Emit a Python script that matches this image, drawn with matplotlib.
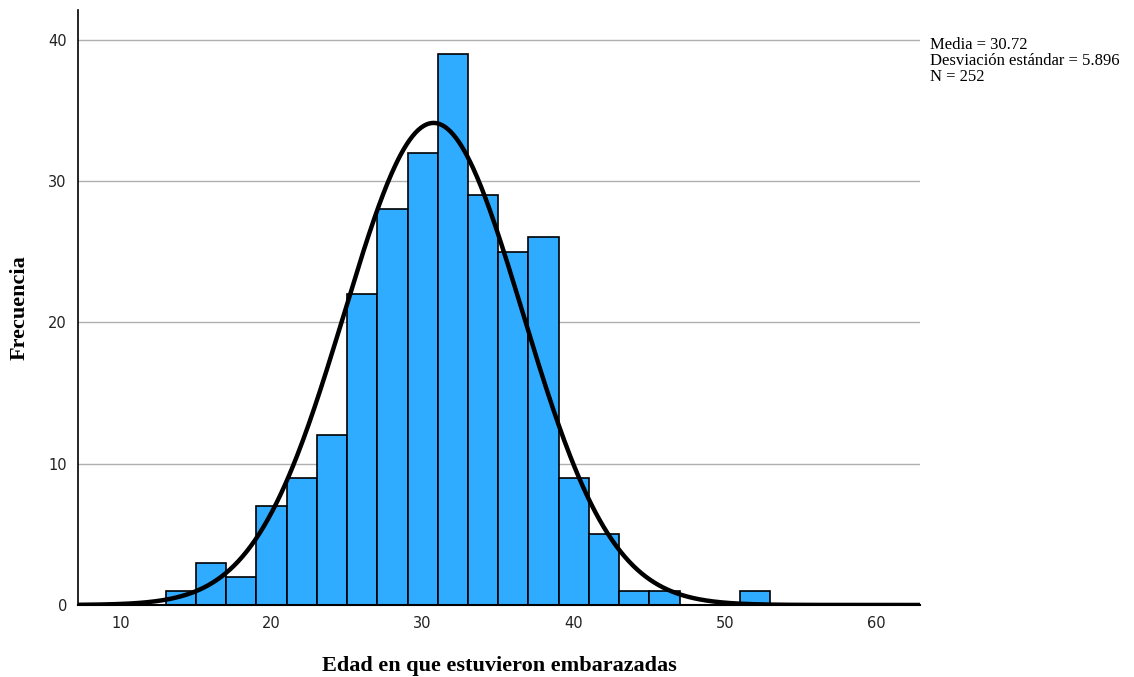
import numpy as np
import matplotlib
matplotlib.use("Agg")
import matplotlib.pyplot as plt

# histogram bins (width 2 years) and counts
bin_edges = [13, 15, 17, 19, 21, 23, 25, 27, 29, 31, 33, 35, 37, 39, 41, 43, 45, 47, 49, 51, 53]
counts = [1, 3, 2, 7, 9, 12, 22, 28, 32, 39, 29, 25, 26, 9, 5, 1, 1, 0, 0, 1]

media = 30.72
desv = 5.896
n = 252
bin_width = 2

fig = plt.figure(figsize=(11.34, 6.77), dpi=100)
ax = fig.add_axes([0.0688, 0.1064, 0.7425, 0.879])

# bars
lefts = bin_edges[:-1]
ax.bar(lefts, counts, width=bin_width, align="edge", color="#2fabff",
       edgecolor="black", linewidth=1.2, zorder=2)

# normal curve scaled to counts
xs = np.linspace(7.2, 62.9, 600)
ys = n * bin_width / (desv * np.sqrt(2 * np.pi)) * np.exp(-0.5 * ((xs - media) / desv) ** 2)
ax.plot(xs, ys, color="black", linewidth=3.2, zorder=3)

ax.set_xlim(7.2, 62.9)
ax.set_ylim(0, 42.1)
ax.set_xticks([10, 20, 30, 40, 50, 60])
ax.set_yticks([0, 10, 20, 30, 40])
ax.yaxis.grid(True, color="#b0b0b0", linewidth=1, zorder=0)
ax.set_axisbelow(True)
ax.tick_params(length=0, labelsize=10.5, colors="#222222", pad=8)

for s in ["top", "right"]:
    ax.spines[s].set_visible(False)
ax.spines["left"].set_linewidth(1.2)
ax.spines["bottom"].set_linewidth(1.5)

ax.set_xlabel("Edad en que estuvieron embarazadas", fontsize=16, fontweight="bold",
              family="Liberation Serif", labelpad=18)
ax.set_ylabel("Frecuencia", fontsize=16, fontweight="bold", family="Liberation Serif")
ax.yaxis.set_label_coords(-0.057, 0.5)

fig.text(0.820, 0.945, f"Media = {media}\nDesviación estándar = {desv}\nN = {n}",
         fontsize=12, family="Liberation Serif", va="top", ha="left", linespacing=0.98)

fig.savefig("out.png", dpi=100)
plt.close(fig)
